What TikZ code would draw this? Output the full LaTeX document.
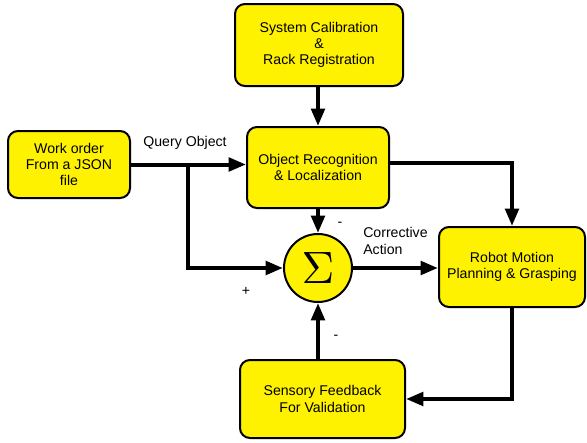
\documentclass[tikz,border=0pt]{standalone}
\usepackage{fontspec}
\setmainfont{Liberation Sans}
\usetikzlibrary{arrows.meta}

\tikzset{
  block/.style={draw, line width=1.5pt, fill=yellow, rounded corners=7.5pt,
    align=center, font=\fontsize{10.6}{12.2}\selectfont},
  flow/.style={line width=3pt, -{Triangle[length=13pt,width=10pt]}},
  tag/.style={font=\fontsize{10.6}{12.2}\selectfont, inner sep=0pt},
}

\begin{document}
\begin{tikzpicture}[x=0.75pt,y=-0.75pt]
\useasboundingbox (0,0) rectangle (587,443);

% blocks
\node[block, minimum width=126pt, minimum height=61.5pt] (calib) at (319,45)
  {System Calibration\\\&\\Rack Registration};
\node[block, minimum width=91.5pt, minimum height=50.25pt] (work) at (69,164.5)
  {Work order\\From a JSON\\file};
\node[block, minimum width=106.5pt, minimum height=60.75pt] (rec) at (318,167.5)
  {Object Recognition\\\& Localization};
\node[block, minimum width=109.5pt, minimum height=60pt] (robot) at (512,267)
  {Robot Motion\\Planning \& Grasping};
\node[block, minimum width=123.75pt, minimum height=58.5pt] (sens) at (322.5,399)
  {Sensory Feedback\\For Validation};
\node[draw, circle, line width=1.5pt, fill=yellow, minimum size=51pt, inner sep=0pt]
  (sum) at (318,268) {\scalebox{3.4}{$\Sigma$}};

% labels
\node[tag] (query) at (185,143) {Query Object};
\node[tag, align=left, anchor=west] (corr) at (363,241) {Corrective\\Action};
\node[tag] (plus) at (246,291) {+};
\node[tag] (minusA) at (340,224) {-};
\node[tag] (minusB) at (336,337) {-};

% connectors
\coordinate (split) at (188,165);
\draw[flow] (calib.south -| rec) -- (rec.north);
\draw[flow] (work.east) -- (work.east -| rec.west);
\draw[flow] (split) |- (sum.west);
\draw[flow] (rec.south) -- (sum.north);
\draw[flow] ([yshift=3.4pt]rec.east) -| (robot.north);
\draw[flow] (sum.east) -- (sum.east -| robot.west);
\draw[flow] (robot.south) |- (sens.east);
\draw[flow] (sens.north -| sum) -- (sum.south);
\end{tikzpicture}
\end{document}
